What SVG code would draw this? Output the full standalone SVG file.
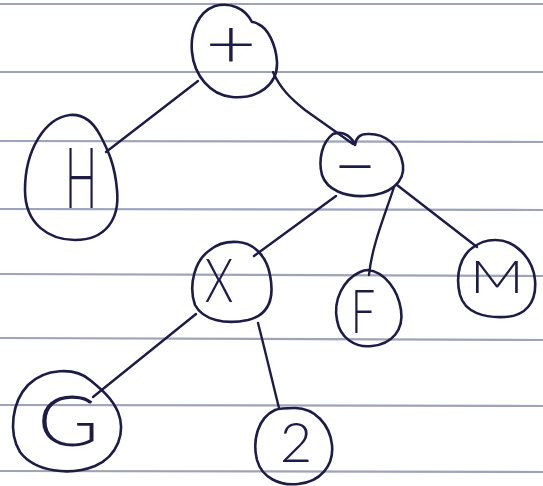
<svg xmlns="http://www.w3.org/2000/svg" width="543" height="486" viewBox="0 0 543 486">
<style>
.paper{stroke:#8f93ad;stroke-width:2.2;opacity:0.85}
.blob{fill:none;stroke:#1c1c45;stroke-width:2.6;stroke-linejoin:round;stroke-linecap:round}
.edge{fill:none;stroke:#1c1c45;stroke-width:2.4;stroke-linecap:round}
.lbl{font-family:Lato,"Liberation Sans",sans-serif;font-weight:300;fill:#1c1c45;text-anchor:middle}
</style>
<rect width="543" height="486" fill="#ffffff"/>
<g id="paper">
<line class="paper" x1="0" y1="4" x2="543" y2="4"/>
<line class="paper" x1="0" y1="72" x2="543" y2="72"/>
<line class="paper" x1="0" y1="141" x2="543" y2="142"/>
<line class="paper" x1="0" y1="209" x2="543" y2="210"/>
<line class="paper" x1="0" y1="274" x2="543" y2="276"/>
<line class="paper" x1="0" y1="338" x2="543" y2="340"/>
<line class="paper" x1="0" y1="405" x2="543" y2="406"/>
<line class="paper" x1="0" y1="471" x2="543" y2="472"/>
</g>
<g id="connectors">
<path class="edge" d="M 198 81 L 106 152"/>
<path class="edge" d="M 273 72 C 280 88 290 98 305 110 L 353 144"/>
<path class="edge" d="M 336 196 L 254 256"/>
<path class="edge" d="M 394 187 C 385 215 372 245 369 275"/>
<path class="edge" d="M 397 185 L 477 247"/>
<path class="edge" d="M 196 314 L 93 397"/>
<path class="edge" d="M 258 323 C 265 350 272 380 279 408"/>
</g>
<g id="n-plus">
<path class="blob" d="M 252 22 C 245 8 230 2 215 6 C 198 12 190 32 192 52 C 194 75 210 95 232 97 C 258 99 278 85 277 62 C 276 45 268 28 258 24 C 255 22 253 22 252 22 Z"/>
<text class="lbl" font-size="68" transform="translate(231,68) scale(1.3,1)">+</text>
</g>
<g id="n-H">
<path class="blob" d="M 70 115 C 45 118 25 150 25 190 C 25 225 50 240 75 240 C 105 240 120 220 117 190 C 115 165 108 150 100 135 C 92 120 82 114 70 115 Z"/>
<text class="lbl" font-size="85" transform="translate(81,208) scale(0.5,1)">H</text>
</g>
<g id="n-minus">
<path class="blob" d="M 333 134 C 322 142 318 160 322 175 C 327 190 345 197 365 196 C 390 195 405 182 403 165 C 400 145 385 133 367 134 C 360 134 356 138 355 145 C 352 138 345 130 333 134 Z"/>
<text class="lbl" font-size="75" x="355" y="192">−</text>
</g>
<g id="n-X">
<path class="blob" d="M 210 250 C 195 260 188 285 195 305 C 203 320 225 325 248 320 C 268 315 275 300 270 275 C 267 258 255 243 238 242 C 225 241 216 245 210 250 Z"/>
<text class="lbl" font-size="61" transform="translate(219,302) scale(0.75,1)">X</text>
</g>
<g id="n-F">
<path class="blob" d="M 360 272 C 343 280 333 300 337 320 C 340 338 355 348 372 346 C 392 344 404 330 401 310 C 398 290 385 272 368 270 C 364 270 362 271 360 272 Z"/>
<text class="lbl" font-size="62" transform="translate(363,333) scale(0.7,1)">F</text>
</g>
<g id="n-M">
<path class="blob" d="M 475 246 C 460 255 455 275 460 295 C 465 313 485 318 505 317 C 525 316 537 303 535 280 C 533 258 515 240 495 240 C 485 240 480 243 475 246 Z"/>
<text class="lbl" font-size="46" transform="translate(497,293) scale(1.3,1)">M</text>
</g>
<g id="n-G">
<path class="blob" d="M 90 380 C 75 367 45 368 28 385 C 12 402 8 432 20 452 C 35 472 70 476 95 466 C 118 456 126 432 118 412 C 112 398 102 390 90 380 Z"/>
<text class="lbl" font-size="70" transform="translate(68,446) scale(1.2,1)">G</text>
</g>
<g id="n-2">
<path class="blob" d="M 275 410 C 258 418 252 440 257 460 C 262 478 280 486 298 484 C 320 482 334 466 332 445 C 330 425 315 408 295 408 C 287 408 280 408 275 410 Z"/>
<text class="lbl" font-size="56" x="296" y="462">2</text>
</g>
</svg>
